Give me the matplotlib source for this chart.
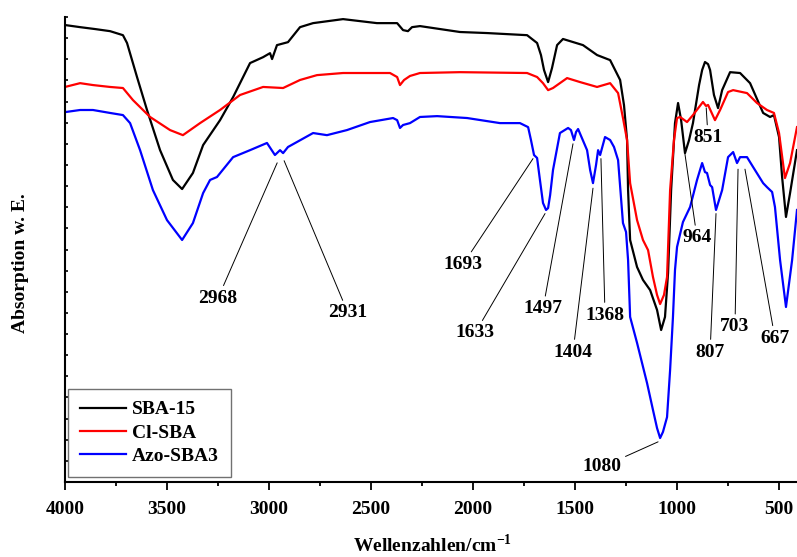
import matplotlib
matplotlib.use("Agg")
import matplotlib.pyplot as plt
from matplotlib.ticker import MultipleLocator

plt.rcParams["font.family"] = ["Liberation Serif", "DejaVu Serif"]
plt.rcParams["font.weight"] = "bold"
plt.rcParams["mathtext.fontset"] = "custom"
plt.rcParams["mathtext.rm"] = "Liberation Serif:bold"
plt.rcParams["mathtext.bf"] = "Liberation Serif:bold"

# SBA-15 (black)
wn_sba = [4000, 3926, 3853, 3779, 3716, 3696, 3647, 3598, 3534, 3471, 3426, 3373, 3323, 3240,
          3176, 3093, 3029, 2995, 2985, 2961, 2907, 2848, 2784, 2637, 2471, 2372, 2343, 2319,
          2299, 2260, 2064, 1931, 1833, 1735, 1686, 1667, 1652, 1632, 1613, 1588, 1559, 1461,
          1392, 1328, 1279, 1260, 1245, 1240, 1230, 1196, 1167, 1132, 1098, 1078, 1059, 1044,
          1029, 1010, 995, 980, 961, 941, 922, 892, 877, 863, 848, 838, 819, 799, 779, 740,
          691, 642, 578, 544, 525, 500, 485, 466, 446, 412]
ab_sba = [21.62, 21.52, 21.43, 21.33, 21.14, 20.77, 19.16, 17.60, 15.70, 14.29, 13.86, 14.62,
          15.94, 17.12, 18.21, 19.82, 20.10, 20.29, 20.01, 20.67, 20.81, 21.52, 21.71, 21.90,
          21.71, 21.71, 21.38, 21.33, 21.52, 21.57, 21.29, 21.24, 21.19, 21.14, 20.77, 20.20,
          19.49, 18.92, 19.58, 20.67, 20.96, 20.67, 20.20, 19.96, 19.02, 17.83, 16.18, 13.81,
          11.45, 10.17, 9.56, 9.08, 8.14, 7.19, 7.81, 9.89, 13.81, 16.98, 17.93, 17.12, 15.56,
          16.18, 16.98, 18.78, 19.49, 19.87, 19.77, 19.49, 18.31, 17.69, 18.54, 19.39, 19.35,
          18.87, 17.46, 17.27, 17.36, 16.32, 14.43, 12.54, 13.67, 15.70]

# Cl-SBA (red)
wn_cl = [4000, 3926, 3863, 3779, 3716, 3667, 3583, 3485, 3422, 3338, 3240, 3142, 3029, 2931,
         2848, 2765, 2637, 2407, 2372, 2358, 2338, 2309, 2260, 2064, 1735, 1686, 1657, 1632,
         1608, 1539, 1475, 1392, 1328, 1289, 1265, 1245, 1230, 1196, 1167, 1142, 1118, 1098,
         1083, 1064, 1049, 1034, 1015, 1000, 985, 951, 922, 873, 858, 848, 814, 789, 750, 725,
         657, 608, 559, 525, 500, 471, 446, 412]
ab_cl = [18.69, 18.87, 18.78, 18.69, 18.64, 18.07, 17.27, 16.65, 16.41, 16.98, 17.60, 18.31,
         18.69, 18.64, 19.02, 19.25, 19.35, 19.35, 19.16, 18.78, 19.02, 19.21, 19.35, 19.39,
         19.35, 19.16, 18.87, 18.54, 18.64, 19.11, 18.92, 18.69, 18.87, 18.40, 17.22, 16.18,
         14.14, 12.39, 11.45, 10.97, 9.70, 8.85, 8.42, 8.85, 9.70, 13.81, 16.18, 17.22, 17.27,
         17.03, 17.36, 17.98, 17.79, 17.84, 17.12, 17.60, 18.45, 18.54, 18.40, 17.93, 17.60,
         17.46, 16.51, 14.38, 15.09, 16.79]

# Azo-SBA3 (blue)
wn_azo = [4000, 3926, 3863, 3779, 3716, 3681, 3632, 3569, 3500, 3426, 3373, 3323, 3289, 3255,
          3176, 3093, 3010, 2971, 2946, 2931, 2907, 2784, 2716, 2618, 2505, 2392, 2372, 2358,
          2343, 2309, 2260, 2176, 2029, 1868, 1770, 1730, 1716, 1701, 1686, 1672, 1657, 1642,
          1632, 1622, 1608, 1574, 1534, 1520, 1505, 1495, 1485, 1441, 1426, 1412, 1397, 1387,
          1377, 1353, 1328, 1309, 1289, 1270, 1265, 1250, 1240, 1230, 1196, 1147, 1118, 1098,
          1083, 1069, 1049, 1034, 1020, 1010, 1000, 971, 936, 902, 877, 863, 853, 838, 828,
          809, 779, 750, 725, 706, 691, 657, 627, 578, 559, 534, 520, 495, 466, 436, 412]
ab_azo = [17.50, 17.60, 17.60, 17.46, 17.36, 16.98, 15.70, 13.81, 12.39, 11.45, 12.25, 13.67,
          14.29, 14.43, 15.37, 15.70, 16.04, 15.47, 15.70, 15.56, 15.85, 16.51, 16.41, 16.65,
          17.03, 17.22, 17.12, 16.75, 16.89, 16.98, 17.27, 17.31, 17.22, 16.98, 16.98, 16.79,
          16.18, 15.47, 15.33, 14.29, 13.20, 12.87, 12.96, 13.58, 14.76, 16.51, 16.75, 16.65,
          16.18, 16.56, 16.70, 15.70, 14.76, 14.14, 15.00, 15.70, 15.47, 16.32, 16.18, 15.85,
          15.23, 12.87, 12.25, 11.83, 10.50, 7.81, 6.58, 4.68, 3.41, 2.55, 2.08, 2.37, 3.07,
          5.30, 7.81, 10.03, 11.12, 12.30, 13.01, 14.29, 15.09, 14.66, 14.62, 14.05, 13.95,
          12.87, 13.81, 15.37, 15.61, 15.09, 15.37, 15.37, 14.90, 14.14, 13.95, 13.72, 13.01,
          10.50, 8.28, 10.50, 12.87]

# peak labels: text, point on curve, label position
peak_labels = ["2968", "2931", "1693", "1633", "1497", "1404", "1368", "1080",
               "964", "851", "807", "703", "667"]
peak_xy = [(2960, 15.1), (2926, 15.2), (1706, 15.3), (1647, 12.7), (1510, 16.0),
           (1412, 13.9), (1373, 15.3), (1093, 1.9), (961, 15.5), (857, 17.7),
           (809, 12.7), (701, 14.8), (667, 14.8)]
label_xy = [(3250, 8.7), (2613, 8.0), (2049, 10.3), (1990, 7.05), (1657, 8.2),
            (1510, 6.15), (1353, 7.9), (1368, 0.71), (902, 11.55), (848, 16.3),
            (838, 6.15), (716, 7.35), (520, 6.8)]

fig = plt.figure(figsize=(7.97, 5.57), dpi=100)
ax = fig.add_axes([65 / 797, 75 / 557, 732 / 797, 465 / 557])

ax.plot(wn_sba, ab_sba, color="black", lw=1.6, label="SBA-15")
ax.plot(wn_cl, ab_cl, color="#ff0000", lw=1.6, label="Cl-SBA")
ax.plot(wn_azo, ab_azo, color="#0000ff", lw=1.6, label="Azo-SBA3")

for txt, xy, xyt in zip(peak_labels, peak_xy, label_xy):
    ax.annotate(txt, xy=xy, xytext=xyt, ha="center", va="center", fontsize=14,
                fontweight="bold",
                arrowprops=dict(arrowstyle="-", color="black", lw=0.7, shrinkA=1, shrinkB=0))

ax.set_xlim(4000, 412)
ax.set_ylim(0, 22)
ax.xaxis.set_major_locator(MultipleLocator(500))
ax.xaxis.set_minor_locator(MultipleLocator(250))
ax.yaxis.set_major_locator(MultipleLocator(1))

for s in ["top", "right"]:
    ax.spines[s].set_visible(False)
for s in ["left", "bottom"]:
    ax.spines[s].set_linewidth(1.5)

ax.tick_params(axis="x", which="major", direction="out", length=6, width=1.3,
               labelsize=14, pad=8)
ax.tick_params(axis="x", which="minor", direction="out", length=3, width=1.3)
ax.tick_params(axis="y", which="major", direction="in", length=2.5, width=1.2,
               labelleft=False)
for lab in ax.get_xticklabels():
    lab.set_fontweight("bold")

fig.text(433 / 797, 1 - 545 / 557, "Wellenzahlen/cm$^{\\mathrm{-1}}$", ha="center",
         va="center", fontsize=14, fontweight="bold")
fig.text(21 / 797, 1 - 263 / 557, "Absorption w. E.", rotation=90, ha="center",
         va="center", fontsize=14, fontweight="bold")

leg = ax.legend(loc="lower left", bbox_to_anchor=(0.004, 0.011), borderaxespad=0,
                fontsize=14, handlelength=2.4, handletextpad=0.3, labelspacing=0.3,
                fancybox=False, frameon=True, borderpad=0.6)
leg.get_frame().set_edgecolor("0.3")
leg.get_frame().set_linewidth(1.0)
for t in leg.get_texts():
    t.set_fontweight("bold")

fig.savefig("out.png", dpi=100)
